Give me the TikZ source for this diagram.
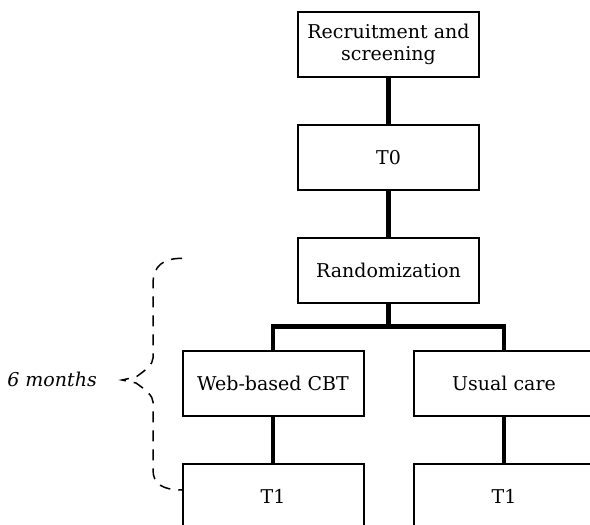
\documentclass[tikz,border=0pt]{standalone}
\usepackage{fontspec}
\setmainfont{DejaVu Serif}
\usetikzlibrary{calc}

\begin{document}
\begin{tikzpicture}[x=1pt,y=1pt,
    box/.style={rectangle,draw,line width=2pt,minimum width=181pt,minimum height=65pt,
      align=center,font=\fontsize{19}{22}\selectfont},
    level distance=113pt,
    edge from parent/.style={draw,line width=4.3pt},
    edge from parent path={(\tikzparentnode.south) -- +(0,-22.5) -| (\tikzchildnode.north)},
    level 3/.style={sibling distance=231pt},
    dashbrace/.style={line width=1.5pt,dash pattern=on 11pt off 8pt}]
    \clip (0,0) rectangle (590,-525);
    \node[box] (rec) at (388.5,-44.5) {Recruitment and\\screening}
      child {node[box] (t0) {T0}
        child {node[box] (rand) {Randomization}
          child {node[box] (web) {Web-based CBT}
            child {node[box] (t1web) {T1} }
          }
          child {node[box] (usual) {Usual care}
            child {node[box] (t1usual) {T1} }
          }
        }
      };
    \coordinate (braceTop) at (182,-258.3);
    \coordinate (braceTip) at (122,-380);
    \coordinate (braceBot) at (182,-490);
    \draw[dashbrace] (braceTop) .. controls (163,-258.3) and (153,-266) .. (153,-284)
      -- (153,-358) .. controls (153,-364) and (146,-370) .. (136,-377) -- (braceTip)
      -- (136,-383) .. controls (146,-390) and (153,-396) .. (153,-402)
      -- (153,-470) .. controls (153,-484) and (163,-490) .. (braceBot);
    \node[anchor=base east,inner sep=0,font=\itshape\fontsize{19}{22}\selectfont] (six)
      at (97,-386) {6 months};
\end{tikzpicture}
\end{document}
